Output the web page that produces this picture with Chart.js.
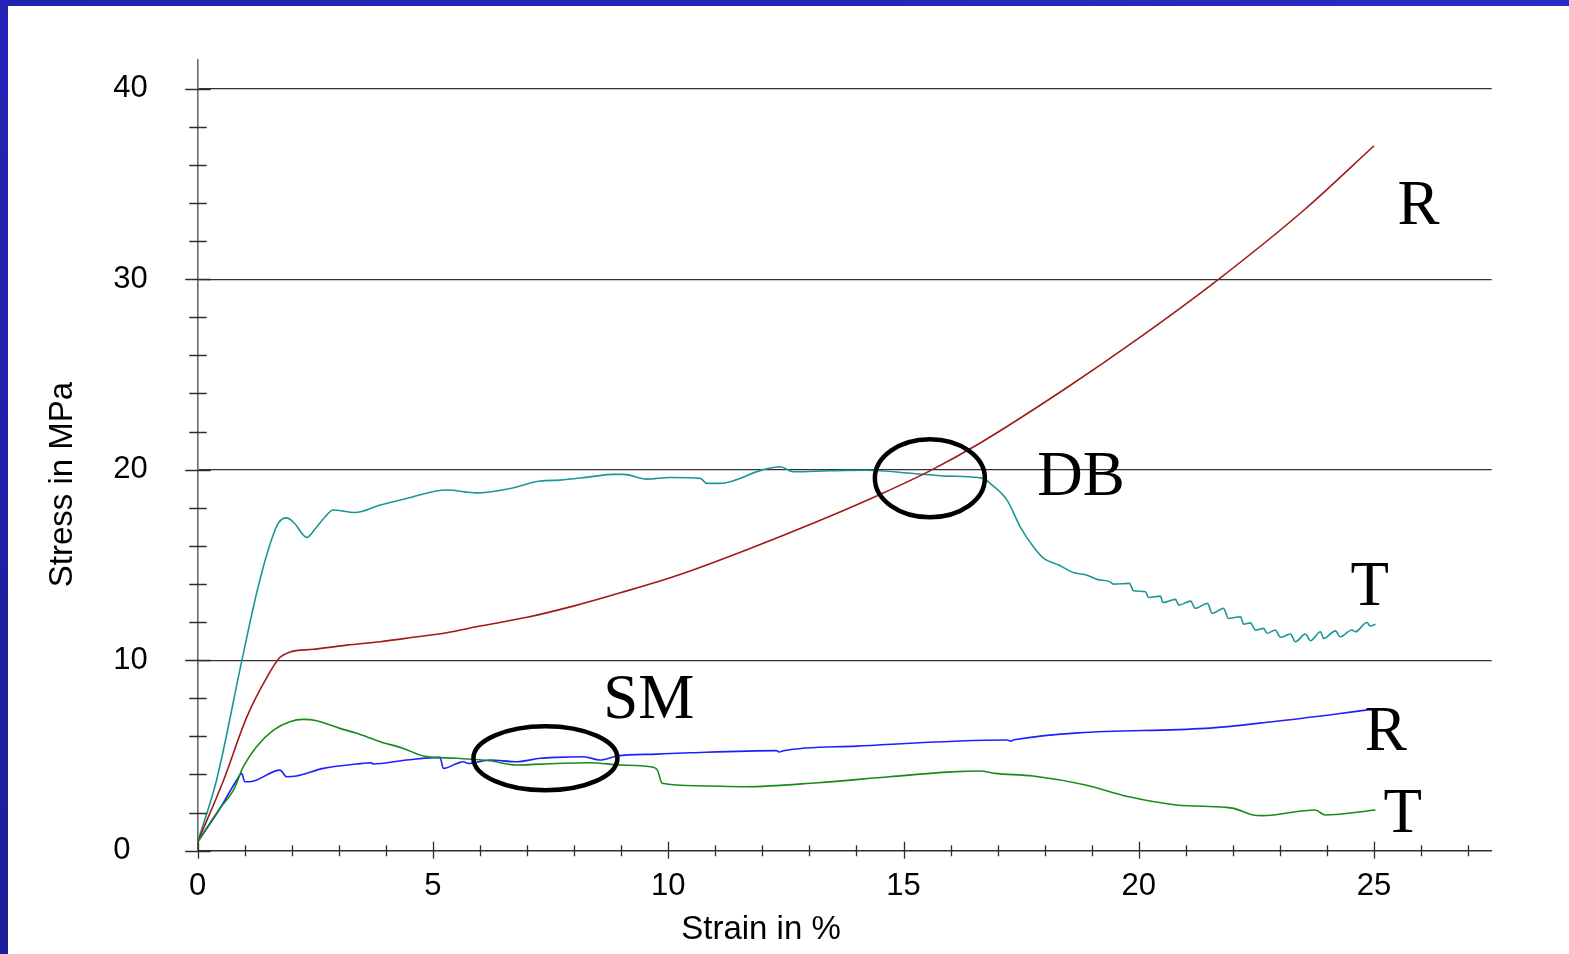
<!DOCTYPE html>
<html>
<head>
<meta charset="utf-8">
<title>Stress–strain curves</title>
<script src="https://cdn.jsdelivr.net/npm/chart.js@4.4.0/dist/chart.umd.min.js"></script>
<style>
  html, body { margin: 0; padding: 0; background: #ffffff; }
  body { width: 1569px; height: 954px; overflow: hidden; position: relative; }
  #frameTop { position: absolute; left: 0; top: 0; width: 1569px; height: 6px;
              background: linear-gradient(90deg, #2222b0, #2a2ac6); }
  #frameLeft { position: absolute; left: 0; top: 0; width: 8px; height: 954px;
               background: linear-gradient(180deg, #2424b8, #1c1c98); }
  canvas { position: absolute; left: 0; top: 0; }
</style>
</head>
<body>
<canvas id="chart" width="1569" height="954"></canvas>
<div id="frameTop"></div>
<div id="frameLeft"></div>
<script>
// ---- measured curves: strain (%) and stress (MPa) ----
const dbTStrain = [0, 0.4, 0.94, 1.25, 1.5, 1.71, 1.89, 2.05, 2.32, 2.5, 2.7, 2.88, 3.34, 3.88, 4.44, 5.29, 5.93, 6.64, 7.28, 7.7, 8.34, 8.84, 9.05, 9.54, 10.04, 10.68, 10.82, 11.1, 12.02, 12.38, 12.66, 13.44, 14.22, 15.21, 15.92, 16.7, 16.84, 17.2, 17.48, 17.76, 17.98, 18.3, 18.61, 18.9, 19.11, 19.39, 19.46, 19.8, 19.89, 20.14, 20.21, 20.46, 20.51, 20.78, 20.85, 21.1, 21.2, 21.46, 21.56, 21.8, 21.91, 22.16, 22.23, 22.37, 22.48, 22.65, 22.73, 22.9, 23.01, 23.22, 23.33, 23.54, 23.65, 23.86, 23.93, 24.18, 24.28, 24.53, 24.6, 24.85, 24.92, 25.03];
const dbTStress = [0.47, 3.7, 10.0, 13.5, 15.8, 17.18, 17.47, 17.2, 16.44, 16.9, 17.5, 17.88, 17.75, 18.14, 18.49, 18.93, 18.78, 19.01, 19.4, 19.45, 19.62, 19.75, 19.75, 19.5, 19.59, 19.54, 19.28, 19.28, 20.0, 20.15, 19.89, 19.94, 19.97, 19.8, 19.66, 19.54, 19.28, 18.4, 17.0, 15.95, 15.34, 14.99, 14.6, 14.46, 14.24, 14.11, 13.99, 14.03, 13.64, 13.59, 13.29, 13.36, 13.03, 13.19, 12.89, 13.1, 12.72, 12.98, 12.46, 12.72, 12.19, 12.28, 11.89, 11.96, 11.58, 11.67, 11.41, 11.58, 11.2, 11.37, 10.97, 11.37, 11.02, 11.49, 11.14, 11.54, 11.23, 11.58, 11.49, 11.98, 11.79, 11.88];

const dbRStrain = [0, 0.55, 1.04, 1.47, 1.75, 1.95, 2.46, 3.17, 3.88, 4.58, 5.29, 6.0, 7.0, 8.0, 9.0, 10.25, 11.67, 13.09, 14.5, 15.57, 16.63, 18.5, 20.0, 21.7, 23.5, 25.0];
const dbRStress = [0.47, 3.7, 7.0, 9.1, 10.15, 10.42, 10.57, 10.79, 10.97, 11.2, 11.44, 11.79, 12.25, 12.85, 13.55, 14.5, 15.8, 17.2, 18.7, 19.95, 21.4, 24.35, 26.9, 30.0, 33.6, 37.0];

const smTStrain = [0, 0.47, 0.76, 0.97, 1.25, 1.61, 1.96, 2.24, 2.53, 3.02, 3.38, 3.88, 4.37, 4.8, 5.51, 6.21, 6.78, 7.63, 8.34, 8.98, 9.62, 9.77, 9.87, 10.63, 11.65, 13.18, 14.7, 16.12, 16.63, 16.94, 17.75, 18.87, 19.79, 20.8, 21.82, 22.02, 22.43, 22.63, 23.75, 23.96, 25.03];
const smTStress = [0.47, 2.22, 3.18, 4.41, 5.46, 6.33, 6.77, 6.89, 6.82, 6.42, 6.16, 5.72, 5.37, 4.97, 4.85, 4.72, 4.5, 4.58, 4.62, 4.5, 4.41, 4.23, 3.54, 3.41, 3.36, 3.57, 3.88, 4.15, 4.18, 4.06, 3.92, 3.45, 2.83, 2.4, 2.28, 2.22, 1.87, 1.84, 2.14, 1.87, 2.14];

const smRStrain = [0, 0.47, 0.83, 0.935, 1.0, 1.11, 1.75, 1.89, 2.1, 2.67, 3.38, 3.7, 3.72, 4.44, 5.15, 5.22, 5.51, 5.65, 5.75, 6.21, 6.78, 7.28, 7.63, 8.2, 8.55, 8.91, 9.76, 10.47, 12.3, 12.36, 12.45, 14.0, 17.2, 17.28, 17.35, 21.41, 22.84, 25.0];
const smRStress = [0.47, 2.2, 3.71, 4.06, 3.62, 3.62, 4.23, 3.88, 3.92, 4.32, 4.55, 4.62, 4.55, 4.76, 4.9, 4.32, 4.58, 4.67, 4.58, 4.76, 4.67, 4.85, 4.9, 4.93, 4.76, 4.97, 5.07, 5.14, 5.25, 5.18, 5.25, 5.49, 5.81, 5.75, 5.82, 6.42, 6.77, 7.43];

// axis tick values
const strainMajorTicks = [0, 5, 10, 15, 20, 25];
const stressMajorTicks = [0, 10, 20, 30, 40];

// curve labels and highlight rings, anchored in data units
const curveLabels = [
  { text: 'R',  x: 25.5,  y: 32.9 },
  { text: 'DB', x: 17.84, y: 18.66 },
  { text: 'T',  x: 24.5,  y: 12.9 },
  { text: 'SM', x: 8.62,  y: 6.96 },
  { text: 'R',  x: 24.8,  y: 5.28 },
  { text: 'T',  x: 25.2,  y: 0.98 }
];
const rings = [
  { x: 15.56, y: 19.55, rx: 55, ry: 39 },
  { x: 7.39,  y: 4.85,  rx: 72, ry: 32 }
];

const toPoints = (xs, ys) => xs.map((x, i) => ({ x, y: ys[i] }));
const SANS = '"Liberation Sans", Arial, Helvetica, sans-serif';
const SERIF = '"Liberation Serif", "Times New Roman", Times, serif';

// cross-shaped tick marks on both axes, drawn over the plot
const crossTicks = {
  id: 'crossTicks',
  afterDraw(chart) {
    const { ctx, chartArea: a, scales: { x, y } } = chart;
    ctx.save();
    ctx.strokeStyle = '#2e2e2e';
    ctx.lineWidth = 1.3;
    ctx.beginPath();
    for (let v = 0; v <= 40; v += 2) {
      const py = Math.round(y.getPixelForValue(v)) + 0.5;
      const major = stressMajorTicks.includes(v);
      ctx.moveTo(a.left - (major ? 12.5 : 8.5), py);
      ctx.lineTo(a.left + (major ? 13 : 9), py);
    }
    for (let v = 0; v <= 27; v += 1) {
      const px = Math.round(x.getPixelForValue(v)) + 0.5;
      const major = strainMajorTicks.includes(v);
      ctx.moveTo(px, a.bottom - (major ? 9 : 5.5));
      ctx.lineTo(px, a.bottom + (major ? 8 : 5.5));
    }
    ctx.stroke();
    ctx.restore();
  }
};

// axis titles
const axisTitles = {
  id: 'axisTitles',
  afterDraw(chart) {
    const { ctx } = chart;
    ctx.save();
    ctx.fillStyle = '#000';
    ctx.font = '33px ' + SANS;
    ctx.textAlign = 'center';
    ctx.textBaseline = 'alphabetic';
    ctx.fillText('Strain in %', 761, 939);
    ctx.translate(72, 484.5);
    ctx.rotate(-Math.PI / 2);
    ctx.fillText('Stress in MPa', 0, 0);
    ctx.restore();
  }
};

// curve letters and ellipses
const curveMarks = {
  id: 'curveMarks',
  afterDatasetsDraw(chart) {
    const { ctx, scales: { x, y } } = chart;
    ctx.save();
    ctx.strokeStyle = '#000';
    ctx.lineWidth = 4.5;
    rings.forEach(r => {
      ctx.beginPath();
      ctx.ellipse(x.getPixelForValue(r.x), y.getPixelForValue(r.y), r.rx, r.ry, 0, 0, Math.PI * 2);
      ctx.stroke();
    });
    ctx.fillStyle = '#000';
    ctx.font = '63px ' + SERIF;
    ctx.textAlign = 'left';
    ctx.textBaseline = 'alphabetic';
    curveLabels.forEach(l => {
      ctx.fillText(l.text, x.getPixelForValue(l.x), y.getPixelForValue(l.y));
    });
    ctx.restore();
  }
};

const lineStyle = { borderWidth: 1.6, pointRadius: 0, fill: false, showLine: true, cubicInterpolationMode: 'monotone' };

new Chart(document.getElementById('chart'), {
  type: 'scatter',
  data: {
    datasets: [
      { label: 'SM T',  data: toPoints(smTStrain, smTStress), borderColor: '#1a8a1a', ...lineStyle },
      { label: 'SM R',  data: toPoints(smRStrain, smRStress), borderColor: '#1f1fff', ...lineStyle },
      { label: 'DB R',  data: toPoints(dbRStrain, dbRStress), borderColor: '#a01a1a', ...lineStyle },
      { label: 'DB T',  data: toPoints(dbTStrain, dbTStress), borderColor: '#1c9696', ...lineStyle }
    ]
  },
  options: {
    responsive: false,
    animation: false,
    devicePixelRatio: 1,
    layout: { padding: { left: 0, top: 60, right: 77.3, bottom: 0 } },
    plugins: { legend: { display: false }, tooltip: { enabled: false } },
    scales: {
      x: {
        type: 'linear', min: 0, max: 27.5,
        afterFit(s) { s.height = 103.3; s.paddingLeft = 0; s.paddingRight = 0; },
        border: { display: true, color: '#2e2e2e', width: 1.5 },
        grid: { display: false, drawTicks: false },
        ticks: {
          stepSize: 1, includeBounds: false, autoSkip: false, maxRotation: 0, padding: 17, color: '#000',
          font: { family: SANS, size: 31 },
          callback: v => strainMajorTicks.includes(v) ? String(v) : ''
        }
      },
      y: {
        type: 'linear', min: 0, max: 41.5,
        afterFit(s) { s.width = 197.7; s.paddingTop = 0; s.paddingBottom = 0; },
        border: { display: true, color: '#6a6a6a', width: 1.6 },
        grid: {
          drawTicks: false, lineWidth: 1.2,
          color: c => (c.tick && c.tick.value > 0 && stressMajorTicks.includes(c.tick.value)) ? '#333333' : 'rgba(0,0,0,0)'
        },
        ticks: {
          stepSize: 2, includeBounds: false, autoSkip: false, padding: 50, color: '#000',
          font: { family: SANS, size: 31 },
          callback: v => stressMajorTicks.includes(v) ? (v === 0 ? '0\u2007' : String(v)) : ''
        }
      }
    }
  },
  plugins: [curveMarks, crossTicks, axisTitles]
});
</script>
</body>
</html>
